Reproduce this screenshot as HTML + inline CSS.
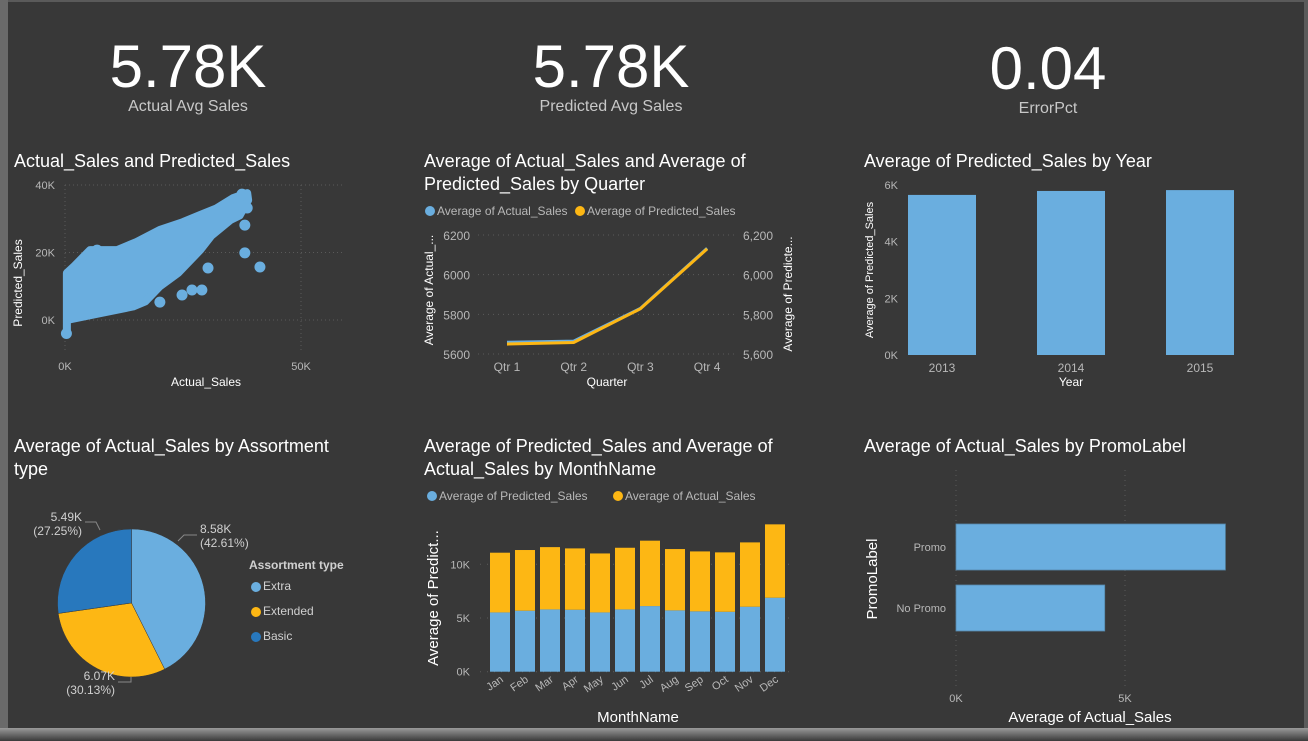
<!DOCTYPE html>
<html><head><meta charset="utf-8"><style>
html,body{margin:0;padding:0;width:1308px;height:741px;overflow:hidden;background:#6a6a6a;}
svg{display:block;font-family:"Liberation Sans",Arial,sans-serif;}
</style></head><body>
<svg id="dash" width="1308" height="741" viewBox="0 0 1308 741" xmlns="http://www.w3.org/2000/svg">
<defs>
<linearGradient id="bot" x1="0" y1="0" x2="0" y2="1"><stop offset="0" stop-color="#9a9a9a"/><stop offset="1" stop-color="#3a3a3a"/></linearGradient>
</defs>
<rect x="0" y="0" width="1308" height="741" fill="#5a5a5a"/>
<rect x="0" y="728" width="1308" height="13" fill="url(#bot)"/>
<rect x="8" y="2" width="1296" height="726" fill="#383838"/>
<rect x="0" y="0" width="8" height="728" fill="#6a6a6a"/>

<g>
<text x="188" y="87" font-size="60" fill="#fff" text-anchor="middle">5.78K</text>
<text x="188" y="111" font-size="16" fill="#c8c8c8" text-anchor="middle">Actual Avg Sales</text></g>
<g>
<text x="611" y="87" font-size="60" fill="#fff" text-anchor="middle">5.78K</text>
<text x="611" y="111" font-size="16" fill="#c8c8c8" text-anchor="middle">Predicted Avg Sales</text></g>
<g>
<text x="1048" y="89" font-size="60" fill="#fff" text-anchor="middle">0.04</text>
<text x="1048" y="113" font-size="16" fill="#c8c8c8" text-anchor="middle">ErrorPct</text></g>

<text x="14" y="167" font-size="18" fill="#fff">Actual_Sales and Predicted_Sales</text>
<text x="424" y="167" font-size="18" fill="#fff">Average of Actual_Sales and Average of</text>
<text x="424" y="190" font-size="18" fill="#fff">Predicted_Sales by Quarter</text>
<text x="864" y="167" font-size="18" fill="#fff">Average of Predicted_Sales by Year</text>
<text x="14" y="452" font-size="18" fill="#fff">Average of Actual_Sales by Assortment</text>
<text x="14" y="475" font-size="18" fill="#fff">type</text>
<text x="424" y="452" font-size="18" fill="#fff">Average of Predicted_Sales and Average of</text>
<text x="424" y="475" font-size="18" fill="#fff">Actual_Sales by MonthName</text>
<text x="864" y="452" font-size="18" fill="#fff">Average of Actual_Sales by PromoLabel</text>

<g id="scatter"></g>
<g id="line"></g>
<g id="year"></g>
<g id="pie"></g>
<g id="month"></g>
<g id="promo"></g>
</svg>
<script>
const scatterCloudX = [0.4,2,5.3,11,15,20.1,25,28.6,32,35.6,38.6,38.8,37,35,31,28.6,24,20.1,17,14.4,7.4,0.4,0.4];
const scatterCloudY = [13.9,16,20.7,20.7,23,26.7,29,31.1,33,36.1,37.6,35.5,31,29.6,25,20.7,14,10,5.5,4,2,0,-3.9];
const scatterPtsX = [38.1,41.3,6.8,30.3,29,26.9,24.8,20.1,38.6,38.1,37.5,0.3];
const scatterPtsY = [19.9,15.7,20.7,15.4,8.9,8.9,7.4,5.3,33.2,28.1,37.3,-4];
const scatterXTicks = [0,50];
const scatterYTicks = [0,20,40];

const quarters = ["Qtr 1","Qtr 2","Qtr 3","Qtr 4"];
const qActual = [5659,5665,5830,6133];
const qPredicted = [5650,5658,5828,6130];
const qTicks = [5600,5800,6000,6200];

const years = ["2013","2014","2015"];
const yearPred = [5.65,5.79,5.82];
const yearTicks = [0,2,4,6];

const assortTypes = ["Extra","Extended","Basic"];
const assortVals = [8.58,6.07,5.49];
const assortPctLabels = ["42.61%","30.13%","27.25%"];

const months = ["Jan","Feb","Mar","Apr","May","Jun","Jul","Aug","Sep","Oct","Nov","Dec"];
const monthPred = [5.52,5.68,5.80,5.77,5.52,5.80,6.11,5.71,5.62,5.58,6.05,6.89];
const monthActual = [5.56,5.65,5.80,5.71,5.49,5.74,6.09,5.71,5.58,5.53,5.99,6.83];
const monthTicks = [0,5,10];

const promoLabels = ["Promo","No Promo"];
const promoVals = [7.97,4.40];
const promoTicks = [0,5];

const NS="http://www.w3.org/2000/svg";
function mk(parent,tag,attrs,text){const e=document.createElementNS(NS,tag);for(const k in attrs)e.setAttribute(k,attrs[k]);if(text!==undefined)e.textContent=text;parent.appendChild(e);return e;}
const BLUE="#6aaedf",GOLD="#fdb714",DBLUE="#2878bd",TICK="#b8b8b8",GRID="#5a5a5a";

(function(){
const g=document.getElementById('scatter');
const sx=v=>65+v/50*236, sy=v=>320-v/40*135;
scatterYTicks.forEach(t=>{mk(g,'line',{x1:65,x2:345,y1:sy(t),y2:sy(t),stroke:GRID,'stroke-dasharray':'1 3'});
 const l=mk(g,'text',{x:55,y:sy(t)+4,'font-size':11,fill:TICK,'text-anchor':'end'},t+'K');
 
 });
scatterXTicks.forEach(t=>{mk(g,'line',{x1:sx(t),x2:sx(t),y1:185,y2:352,stroke:GRID,'stroke-dasharray':'1 3'});
 const l=mk(g,'text',{x:sx(t),y:370,'font-size':11,fill:TICK,'text-anchor':'middle'},t+'K');
 
 });
const pts=scatterCloudX.map((x,i)=>sx(x)+','+sy(scatterCloudY[i])).join(' ');
const poly=mk(g,'polygon',{points:pts,fill:BLUE,stroke:BLUE,'stroke-width':8,'stroke-linejoin':'round'});


scatterPtsX.forEach((x,i)=>{const c=mk(g,'circle',{cx:sx(x),cy:sy(scatterPtsY[i]),r:5.5,fill:BLUE});
 
 });
const xt=mk(g,'text',{x:206,y:386,'font-size':12,fill:'#fff','text-anchor':'middle'},'Actual_Sales');


const yt=mk(g,'text',{x:0,y:0,'font-size':12,fill:'#fff','text-anchor':'middle',transform:'translate(22,283) rotate(-90)'},'Predicted_Sales');


})();

(function(){
const g=document.getElementById('line');
const x0=507,dx=66.7,sx=i=>x0+i*dx,sy=v=>354-(v-5600)/600*119;
const lg=[["Average of Actual_Sales",BLUE,424],["Average of Predicted_Sales",GOLD,574]];
lg.forEach(l=>{mk(g,'circle',{cx:l[2]+6,cy:211,r:5,fill:l[1]});
 const t=mk(g,'text',{x:l[2]+13,y:215,'font-size':12,fill:TICK},l[0]);
 
 });
qTicks.forEach(t=>{mk(g,'line',{x1:478,x2:735,y1:sy(t),y2:sy(t),stroke:GRID,'stroke-dasharray':'1 4'});
 const a=mk(g,'text',{x:470,y:sy(t)+5,'font-size':12,fill:TICK,'text-anchor':'end'},String(t));
 
 
 const b=mk(g,'text',{x:743,y:sy(t)+5,'font-size':12,fill:TICK},t.toLocaleString('en-US'));
 
 });
quarters.forEach((q,i)=>{const t=mk(g,'text',{x:sx(i),y:371,'font-size':12,fill:TICK,'text-anchor':'middle'},q);
 
 });
const pa=mk(g,'polyline',{points:qActual.map((v,i)=>sx(i)+','+sy(v)).join(' '),fill:'none',stroke:BLUE,'stroke-width':3});


const pp=mk(g,'polyline',{points:qPredicted.map((v,i)=>sx(i)+','+sy(v)).join(' '),fill:'none',stroke:GOLD,'stroke-width':3});


const xt=mk(g,'text',{x:607,y:386,'font-size':12,fill:'#fff','text-anchor':'middle'},'Quarter');


const y1=mk(g,'text',{x:0,y:0,'font-size':12,fill:'#fff','text-anchor':'middle',transform:'translate(433,290) rotate(-90)'},'Average of Actual_...');


const y2=mk(g,'text',{x:0,y:0,'font-size':12,fill:'#fff','text-anchor':'middle',transform:'translate(792,294) rotate(-90)'},'Average of Predicte...');


})();

(function(){
const g=document.getElementById('year');
const sy=v=>355-v/6*170, cx=i=>942+i*129;
yearTicks.forEach(t=>{const l=mk(g,'text',{x:898,y:sy(t)+4,'font-size':11,fill:TICK,'text-anchor':'end'},t+'K');
 
 });
years.forEach((y,i)=>{const r=mk(g,'rect',{x:cx(i)-34,y:sy(yearPred[i]),width:68,height:355-sy(yearPred[i]),fill:BLUE});
 
 
 const t=mk(g,'text',{x:cx(i),y:372,'font-size':12,fill:TICK,'text-anchor':'middle'},y);
 
 });
const xt=mk(g,'text',{x:1071,y:386,'font-size':12,fill:'#fff','text-anchor':'middle'},'Year');


const yt=mk(g,'text',{x:0,y:0,'font-size':11,fill:'#fff','text-anchor':'middle',transform:'translate(873,270) rotate(-90)'},'Average of Predicted_Sales');


})();

(function(){
const g=document.getElementById('pie');
const cx=131.5,cy=603,r=74,cols=[BLUE,GOLD,DBLUE];
// label anchor layout per slice: [textX, textY, anchor, leader points]
const lay=[[200,533,'start','178,541 184,535 197,535'],[115,680,'end','131,677 131,682 118,682'],[82,521,'end','100,530 96,522 85,522']];
const tot=assortVals.reduce((a,b)=>a+b,0);
let a0=-Math.PI/2;
assortVals.forEach((v,i)=>{const a1=a0+v/tot*2*Math.PI;
 const p=`M${cx},${cy} L${cx+r*Math.cos(a0)},${cy+r*Math.sin(a0)} A${r},${r} 0 ${a1-a0>Math.PI?1:0} 1 ${cx+r*Math.cos(a1)},${cy+r*Math.sin(a1)} Z`;
 const s=mk(g,'path',{d:p,fill:cols[i],stroke:'#383838','stroke-width':0.5});
 
 
 const L=lay[i];
 mk(g,'polyline',{points:L[3],fill:'none',stroke:'#888','stroke-width':1});
 const t1=mk(g,'text',{x:L[0],y:L[1],'font-size':12,fill:'#d0d0d0','text-anchor':L[2]},v.toFixed(2)+'K');
 
 
 const t2=mk(g,'text',{x:L[0],y:L[1]+14,'font-size':12,fill:'#d0d0d0','text-anchor':L[2]},'('+assortPctLabels[i]+')');
 
 
 a0=a1;});
const lt=mk(g,'text',{x:249,y:569,'font-size':12,'font-weight':'bold',fill:'#d0d0d0'},'Assortment type');


assortTypes.forEach((n,i)=>{mk(g,'circle',{cx:256,cy:587+i*25,r:5,fill:cols[i]});
 const t=mk(g,'text',{x:263,y:590+i*25,'font-size':12,fill:'#d0d0d0'},n);
 
 });
})();

(function(){
const g=document.getElementById('month');
const sy=v=>671.7-v*10.74, cx=i=>500+i*25;
[["Average of Predicted_Sales",BLUE,426],["Average of Actual_Sales",GOLD,612]].forEach(l=>{
 mk(g,'circle',{cx:l[2]+6,cy:496,r:5,fill:l[1]});
 const t=mk(g,'text',{x:l[2]+13,y:500,'font-size':12,fill:TICK},l[0]);
 
 });
monthTicks.forEach(t=>{mk(g,'line',{x1:480,x2:795,y1:sy(t),y2:sy(t),stroke:GRID,'stroke-dasharray':'1 6'});
 const l=mk(g,'text',{x:470,y:sy(t)+4,'font-size':11,fill:TICK,'text-anchor':'end'},t+'K');
 
 });
months.forEach((m,i)=>{
 const b=mk(g,'rect',{x:cx(i)-10,y:sy(monthPred[i]),width:20,height:sy(0)-sy(monthPred[i]),fill:BLUE});
 
 
 const tot=monthPred[i]+monthActual[i];
 const a=mk(g,'rect',{x:cx(i)-10,y:sy(tot),width:20,height:sy(monthPred[i])-sy(tot),fill:GOLD});
 
 
 const t=mk(g,'text',{x:0,y:0,'font-size':11,fill:TICK,'text-anchor':'end',transform:`translate(${cx(i)+4},${681}) rotate(-35)`},m);
 
 });
const xt=mk(g,'text',{x:638,y:722,'font-size':15,fill:'#fff','text-anchor':'middle'},'MonthName');


const yt=mk(g,'text',{x:0,y:0,'font-size':15,fill:'#fff','text-anchor':'middle',transform:'translate(438,598) rotate(-90)'},'Average of Predict...');


})();

(function(){
const g=document.getElementById('promo');
const sx=v=>956+v/5*169, ry=i=>524+i*61;
promoTicks.forEach(t=>{mk(g,'line',{x1:sx(t),x2:sx(t),y1:470,y2:688,stroke:GRID,'stroke-dasharray':'1 4'});
 const l=mk(g,'text',{x:sx(t),y:702,'font-size':11,fill:TICK,'text-anchor':'middle'},t+'K');
 
 });
promoLabels.forEach((p,i)=>{const r=mk(g,'rect',{x:sx(0),y:ry(i),width:sx(promoVals[i])-sx(0),height:46,fill:BLUE,stroke:'#5588aa','stroke-width':0.8});
 
 
 const t=mk(g,'text',{x:946,y:ry(i)+27,'font-size':11,fill:TICK,'text-anchor':'end'},p);
 
 });
const xt=mk(g,'text',{x:1090,y:722,'font-size':15,fill:'#fff','text-anchor':'middle'},'Average of Actual_Sales');


const yt=mk(g,'text',{x:0,y:0,'font-size':15,fill:'#fff','text-anchor':'middle',transform:'translate(877,579) rotate(-90)'},'PromoLabel');


})();
</script>
</body></html>
